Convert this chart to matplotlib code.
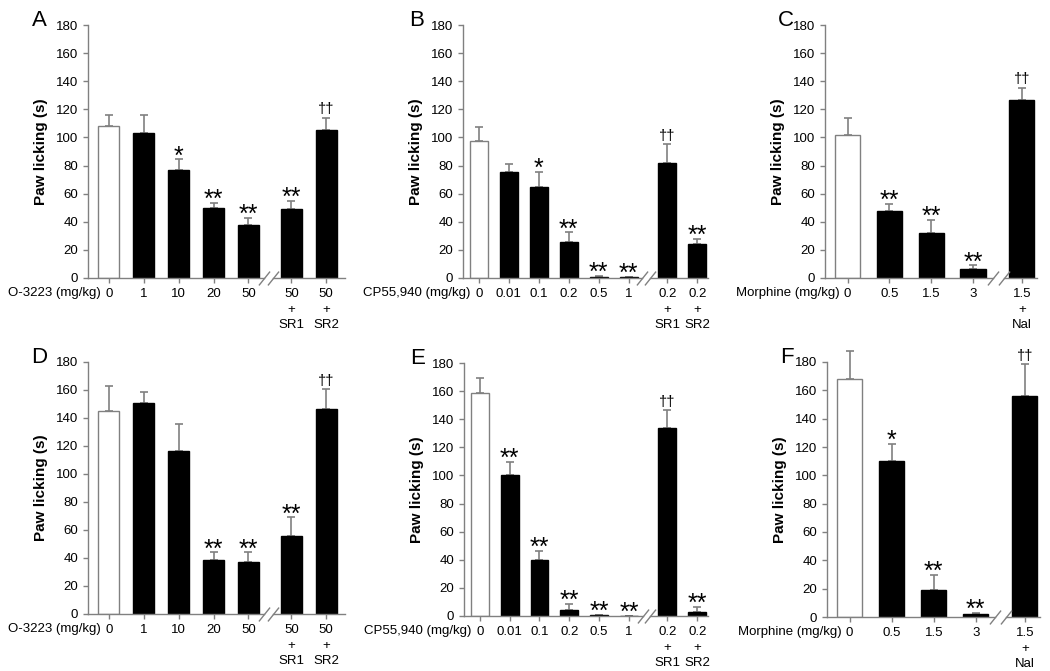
import matplotlib.pyplot as plt
import numpy as np

plt.rcParams['font.family'] = ['Liberation Sans', 'DejaVu Sans']

# %%
# Values (mean and upper SEM, seconds of paw licking)

o3223_labels = ['0', '1', '10', '20', '50', '50\n+\nSR1', '50\n+\nSR2']
cp_labels = ['0', '0.01', '0.1', '0.2', '0.5', '1', '0.2\n+\nSR1', '0.2\n+\nSR2']
morph_labels = ['0', '0.5', '1.5', '3', '1.5\n+\nNal']

A_mean = [108, 103, 77, 49.5, 38, 49, 105]
A_err = [8, 13, 7.5, 4, 5, 6, 9]
A_sig = ['', '', '*', '**', '**', '**', '††']

B_mean = [97.5, 75.5, 65, 25.5, 1, 0.5, 82, 24]
B_err = [10, 5.5, 10.5, 7, 0.7, 0.3, 13, 4]
B_sig = ['', '', '*', '**', '**', '**', '††', '**']

C_mean = [101.5, 48, 32, 6.5, 126.5]
C_err = [12.5, 5, 9.5, 2.5, 9]
C_sig = ['', '**', '**', '**', '††']

D_mean = [145, 151, 116.5, 38.5, 37.5, 56, 146.5]
D_err = [18, 7.5, 19, 5.5, 6.5, 13, 14]
D_sig = ['', '', '', '**', '**', '**', '††']

E_mean = [159, 100, 39.5, 4.5, 0.5, 0, 133.5, 3]
E_err = [10, 9.5, 7, 4, 0.5, 0, 13, 3.5]
E_sig = ['', '**', '**', '**', '**', '**', '††', '**']

F_mean = [168, 110, 19, 2, 156]
F_err = [19.5, 12, 11, 1, 22.5]
F_sig = ['', '*', '**', '**', '††']

# %%
# Layout helpers

gray = '#808080'
W, H = 1050, 671

fig = plt.figure(figsize=(10.5, 6.71), dpi=100)


def make_ax(left, right, top, bottom):
    return fig.add_axes([left / W, (H - bottom) / H, (right - left) / W, (bottom - top) / H])


def panel(ax, letter, prefix, labels, mean, err, sig, pos, xlim, brk):
    n = len(mean)
    colors = ['white'] + ['black'] * (n - 1)
    ax.bar(pos, mean, width=0.6, color=colors, edgecolor=[gray] + ['black'] * (n - 1),
           linewidth=1, zorder=2)
    eb = ax.errorbar(pos, mean, yerr=[np.zeros(n), err], fmt='none', ecolor=gray,
                     elinewidth=1.2, capsize=3, capthick=1.2, zorder=1)
    for art in eb.lines[1] + eb.lines[2]:
        art.set_clip_on(False)
    for x, m, e, s in zip(pos, mean, err, sig):
        if s == '††':
            ax.annotate(s, (x, m + e), xytext=(0, 1), textcoords='offset points',
                        ha='center', va='bottom', fontsize=10.5)
        elif s:
            ax.annotate(s, (x, m + e), xytext=(0, -3), textcoords='offset points',
                        ha='center', va='baseline', fontsize=18)
    ax.set_xlim(xlim)
    ax.set_ylim(0, 180)
    ax.set_yticks(np.arange(0, 181, 20))
    ax.set_xticks(pos)
    ax.set_xticklabels(labels)
    for t in ax.get_xticklabels():
        t.set_linespacing(1.35)
    ax.tick_params(axis='both', colors=gray, labelcolor='black', labelsize=9.5,
                   length=3.5, width=1)
    ax.tick_params(axis='x', pad=4)
    for sp in ['top', 'right', 'bottom']:
        ax.spines[sp].set_visible(False)
    ax.spines['left'].set_color(gray)
    ax.spines['left'].set_linewidth(1)
    # broken x axis
    d = 0.13
    ax.plot([xlim[0], brk - d], [0, 0], color=gray, lw=1, clip_on=False, zorder=3)
    ax.plot([brk + d, xlim[1]], [0, 0], color=gray, lw=1, clip_on=False, zorder=3)
    ax.plot([brk - d, brk + d], [0, 0], marker=[(-0.8, -1), (0.8, 1)], markersize=10,
            linestyle='none', color=gray, mec=gray, mew=1, clip_on=False, zorder=3)
    ax.set_ylabel('Paw licking (s)', fontsize=11, fontweight='bold', labelpad=6)
    ax.annotate(prefix, xy=(pos[0], 0), xycoords=('data', 'axes fraction'),
                xytext=(-6, -6.6), textcoords='offset points', ha='right', va='top',
                fontsize=9.5)
    ax.text(-0.22, 1.06, letter, transform=ax.transAxes, fontsize=16, va='top', ha='left')


pos_o = [0, 1, 2, 3, 4, 5.23, 6.23]
pos_cp = [0, 1, 2, 3, 4, 5, 6.29, 7.29]
pos_m = [0, 1, 2, 3, 4.17]

axA = make_ax(88, 345, 25, 278)
panel(axA, 'A', 'O-3223 (mg/kg)', o3223_labels, A_mean, A_err, A_sig, pos_o, (-0.6, 6.77), 4.57)
axB = make_ax(463, 708, 25, 278)
panel(axB, 'B', 'CP55,940 (mg/kg)', cp_labels, B_mean, B_err, B_sig, pos_cp, (-0.53, 7.65), 5.59)
axC = make_ax(825, 1037, 25, 278)
panel(axC, 'C', 'Morphine (mg/kg)', morph_labels, C_mean, C_err, C_sig, pos_m, (-0.54, 4.53), 3.6)
axD = make_ax(88, 345, 362, 614)
panel(axD, 'D', 'O-3223 (mg/kg)', o3223_labels, D_mean, D_err, D_sig, pos_o, (-0.6, 6.77), 4.57)
axE = make_ax(464, 708, 363, 616)
panel(axE, 'E', 'CP55,940 (mg/kg)', cp_labels, E_mean, E_err, E_sig, pos_cp, (-0.53, 7.65), 5.59)
axF = make_ax(827, 1040, 362, 617)
panel(axF, 'F', 'Morphine (mg/kg)', morph_labels, F_mean, F_err, F_sig, pos_m, (-0.54, 4.53), 3.6)

fig.savefig('out.png', dpi=100)
